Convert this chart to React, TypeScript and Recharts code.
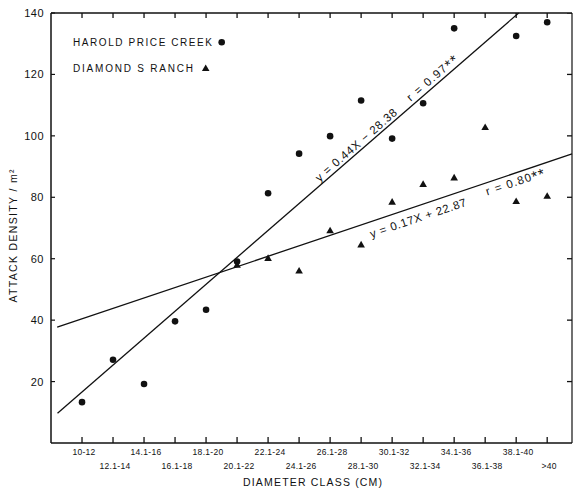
import React from 'react';
import {
  ComposedChart,
  Scatter,
  XAxis,
  YAxis,
  ReferenceLine,
} from 'recharts';

// diameter classes (cm), plotted at positions 0..15
const classes = [
  '10-12', '12.1-14', '14.1-16', '16.1-18', '18.1-20', '20.1-22', '22.1-24', '24.1-26',
  '26.1-28', '28.1-30', '30.1-32', '32.1-34', '34.1-36', '36.1-38', '38.1-40', '>40',
];

const haroldPrice = [13.3, 27.1, 19.2, 39.6, 43.4, 59.1, 81.3, 94.2, 99.9, 111.5, 99.1, 110.6, 135, null, 132.5, 137];
const diamondS = [null, null, null, null, null, 58, 60.2, 56.1, 69.2, 64.6, 78.5, 84.3, 86.4, 102.8, 78.7, 80.4];

// fitted lines at their ends
const haroldFit = [{ x: -0.79, y: 9.7 }, { x: 14.08, y: 140 }];
const diamondFit = [{ x: -0.8, y: 37.7 }, { x: 15.8, y: 94.1 }];

const yTicks = [20, 40, 60, 80, 100, 120, 140];
const xTicks = classes.map((_, i) => i);
const X_MIN = -1;
const X_MAX = 15.8;
const Y_MAX = 140;

const haroldData = haroldPrice
  .map((y, i) => ({ x: i, y }))
  .filter((d) => d.y !== null);
const diamondData = diamondS
  .map((y, i) => ({ x: i, y }))
  .filter((d) => d.y !== null);

// tick positions on the top and right edges of the box
const topTicks = xTicks.map((t) => ({ x: t, y: Y_MAX }));
const rightTicks = yTicks.map((t) => ({ x: X_MAX, y: t }));

const FONT = '"Liberation Sans", Arial, sans-serif';
const INK = '#111';

const Dot = (p: any) => <circle cx={p.cx} cy={p.cy} r={3.3} fill={INK} />;
const Tri = (p: any) => (
  <polygon
    points={`${p.cx},${p.cy - 3.8} ${p.cx + 3.8},${p.cy + 2.8} ${p.cx - 3.8},${p.cy + 2.8}`}
    fill={INK}
  />
);
const DownMark = (p: any) => (
  <line x1={p.cx} y1={p.cy} x2={p.cx} y2={p.cy + 5} stroke={INK} strokeWidth={1.3} />
);
const LeftMark = (p: any) => (
  <line x1={p.cx} y1={p.cy} x2={p.cx - 5} y2={p.cy} stroke={INK} strokeWidth={1.3} />
);

const BottomTick = (p: any) => {
  const { x, y, payload } = p;
  const i = payload.value;
  const row = i % 2 === 0 ? 12 : 26;
  return (
    <g>
      <line x1={x} y1={y} x2={x} y2={y - 6} stroke={INK} strokeWidth={1.3} />
      <text x={x + 2} y={y + row} textAnchor="middle" fontSize={8.5} fontFamily={FONT} fill={INK} letterSpacing={0.3}>
        {classes[i]}
      </text>
    </g>
  );
};

const LeftTick = (p: any) => (
  <g>
    <line x1={p.x} y1={p.y} x2={p.x + 4} y2={p.y} stroke={INK} strokeWidth={1.2} />
    <text x={p.x - 7} y={p.y} dy={4} textAnchor="end" fontSize={11} fontFamily={FONT} fill={INK} letterSpacing={0.5}>
      {p.payload.value}
    </text>
  </g>
);

const Note = ({ x, y, angle, len, main, stars }: any) => (
  <text
    x={x}
    y={y}
    transform={`rotate(${angle} ${x} ${y})`}
    textAnchor="middle"
    dominantBaseline="central"
    fontSize={11.5}
    fontFamily={FONT}
    fill={INK}
    textLength={len}
    lengthAdjust="spacing"
  >
    {main}
    {stars ? <tspan fontSize={15}>{stars}</tspan> : null}
  </text>
);

export default function App() {
  return (
    <div style={{ position: 'absolute', left: 0, top: 0, background: '#fff' }}>
      <ComposedChart width={574} height={492} margin={{ top: 11, right: 0, bottom: 19, left: 21 }}>
        <XAxis
          dataKey="x"
          type="number"
          domain={[X_MIN, X_MAX]}
          ticks={xTicks}
          allowDataOverflow
          height={30}
          tickSize={0}
          tickMargin={0}
          tickLine={false}
          interval={0}
          axisLine={{ stroke: INK, strokeWidth: 1.5 }}
          tick={<BottomTick />}
        />
        <XAxis
          xAxisId="top"
          dataKey="x"
          orientation="top"
          type="number"
          domain={[X_MIN, X_MAX]}
          allowDataOverflow
          height={2}
          tick={false}
          tickLine={false}
          axisLine={{ stroke: INK, strokeWidth: 1.5 }}
        />
        <YAxis
          dataKey="y"
          type="number"
          domain={[0, Y_MAX]}
          ticks={yTicks}
          allowDataOverflow
          width={30}
          tickSize={0}
          tickMargin={0}
          tickLine={false}
          interval={0}
          axisLine={{ stroke: INK, strokeWidth: 1.5 }}
          tick={<LeftTick />}
        />
        <YAxis
          yAxisId="right"
          dataKey="y"
          orientation="right"
          type="number"
          domain={[0, Y_MAX]}
          allowDataOverflow
          width={2}
          tick={false}
          tickLine={false}
          axisLine={{ stroke: INK, strokeWidth: 1.2 }}
        />

        <ReferenceLine segment={haroldFit} stroke={INK} strokeWidth={1.3} ifOverflow="visible" />
        <ReferenceLine segment={diamondFit} stroke={INK} strokeWidth={1.3} ifOverflow="visible" />
        <Scatter name="top ticks" data={topTicks} shape={<DownMark />} legendType="none" isAnimationActive={false} />
        <Scatter name="right ticks" data={rightTicks} shape={<LeftMark />} legendType="none" isAnimationActive={false} />
        <Scatter name="HAROLD PRICE CREEK" data={haroldData} shape={<Dot />} isAnimationActive={false} />
        <Scatter
          name="DIAMOND S RANCH"
          data={diamondData}
          xAxisId="top"
          yAxisId="right"
          shape={<Tri />}
          isAnimationActive={false}
        />

        <g fontFamily={FONT} fill={INK}>
          <text x={73} y={46} fontSize={10} textLength={139} lengthAdjust="spacing">HAROLD PRICE CREEK</text>
          <circle cx={221.7} cy={42.3} r={3.3} fill={INK} />
          <text x={73} y={72} fontSize={10} textLength={120} lengthAdjust="spacing">DIAMOND S RANCH</text>
          <polygon points="205.7,64.5 209.5,71.1 201.9,71.1" fill={INK} />
          <text x={243} y={486} fontSize={10.5} textLength={139} lengthAdjust="spacing">DIAMETER CLASS (CM)</text>
          <text
            x={17}
            y={236}
            transform="rotate(-90 17 236)"
            textAnchor="middle"
            fontSize={10.5}
            textLength={133}
            lengthAdjust="spacing"
          >
            ATTACK DENSITY / m²
          </text>
        </g>
        <Note x={356} y={145} angle={-41} len={104} main="y = 0.44X − 28.38" />
        <Note x={432} y={78} angle={-41} len={63} main="r = 0.97" stars="**" />
        <Note x={418} y={218} angle={-18.6} len={101} main="y = 0.17X + 22.87" />
        <Note x={515} y={182} angle={-18.6} len={61} main="r = 0.80" stars="**" />
      </ComposedChart>
    </div>
  );
}
